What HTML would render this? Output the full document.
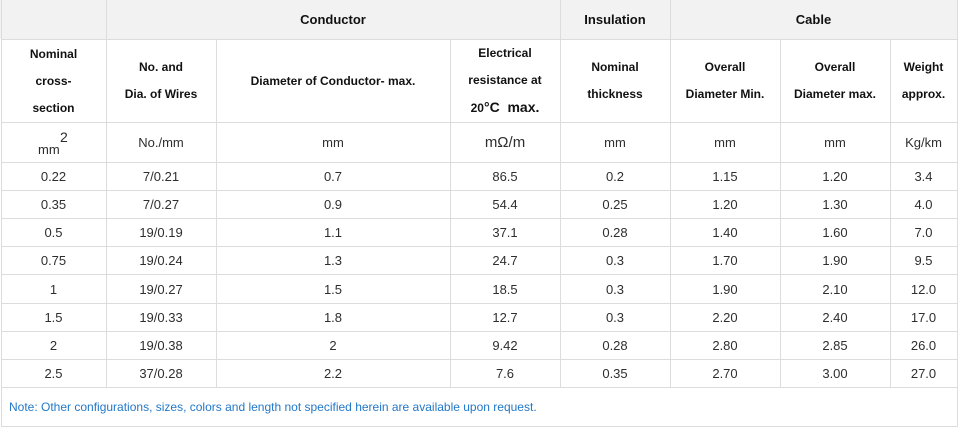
<!DOCTYPE html>
<html>
<head>
<meta charset="utf-8">
<style>
  html,body{margin:0;padding:0;background:#fff;}
  body{width:962px;height:431px;overflow:hidden;position:relative;font-family:"Liberation Sans",Arial,sans-serif;}
  .h{position:absolute;height:1px;background:#dcdcdc;}
  .v{position:absolute;width:1px;background:#dcdcdc;}
  .c{position:absolute;display:flex;align-items:center;justify-content:center;text-align:center;color:#2a2a2a;font-size:13px;white-space:nowrap;}
  .t{font-weight:bold;font-size:13px;color:#111;}
  .s{font-weight:bold;font-size:12px;color:#111;line-height:27px;}
  .d{color:#2e2e2e;}
</style>
</head>
<body>
<!-- header background -->
<div style="position:absolute;left:0;top:0;width:958px;height:39px;background:#f2f2f2;"></div>

<!-- horizontal lines -->
<div class="h" style="left:1px;top:39px;width:957px;"></div>
<div class="h" style="left:1px;top:122px;width:957px;"></div>
<div class="h" style="left:1px;top:162px;width:957px;"></div>
<div class="h" style="left:1px;top:190px;width:957px;"></div>
<div class="h" style="left:1px;top:218px;width:957px;"></div>
<div class="h" style="left:1px;top:246px;width:957px;"></div>
<div class="h" style="left:1px;top:274px;width:957px;"></div>
<div class="h" style="left:1px;top:303px;width:957px;"></div>
<div class="h" style="left:1px;top:331px;width:957px;"></div>
<div class="h" style="left:1px;top:359px;width:957px;"></div>
<div class="h" style="left:1px;top:387px;width:957px;"></div>
<div class="h" style="left:1px;top:426px;width:957px;"></div>

<!-- vertical lines -->
<div class="v" style="left:1px;top:0;height:427px;"></div>
<div class="v" style="left:957px;top:0;height:427px;"></div>
<div class="v" style="left:106px;top:0;height:387px;"></div>
<div class="v" style="left:216px;top:39px;height:348px;"></div>
<div class="v" style="left:450px;top:39px;height:348px;"></div>
<div class="v" style="left:560px;top:0;height:387px;"></div>
<div class="v" style="left:670px;top:0;height:387px;"></div>
<div class="v" style="left:780px;top:39px;height:348px;"></div>
<div class="v" style="left:890px;top:39px;height:348px;"></div>

<!-- header row 1 -->
<div class="c t" style="left:106px;top:0;width:454px;height:39px;">Conductor</div>
<div class="c t" style="left:560px;top:0;width:110px;height:39px;">Insulation</div>
<div class="c t" style="left:670px;top:0;width:287px;height:39px;">Cable</div>

<!-- header row 2 -->
<div class="c s" style="left:1px;top:40px;width:105px;height:82px;"><div>Nominal<br>cross-<br>section</div></div>
<div class="c s" style="left:106px;top:40px;width:110px;height:82px;"><div>No. and<br>Dia. of Wires</div></div>
<div class="c s" style="left:216px;top:40px;width:234px;height:82px;"><div>Diameter of Conductor- max.</div></div>
<div class="c s" style="left:450px;top:40px;width:110px;height:82px;"><div>Electrical<br>resistance at<br>20<span style="font-size:14px;">°C&nbsp;&nbsp;max.</span></div></div>
<div class="c s" style="left:560px;top:40px;width:110px;height:82px;"><div>Nominal<br>thickness</div></div>
<div class="c s" style="left:670px;top:40px;width:110px;height:82px;"><div>Overall<br>Diameter Min.</div></div>
<div class="c s" style="left:780px;top:40px;width:110px;height:82px;"><div>Overall<br>Diameter max.</div></div>
<div class="c s" style="left:890px;top:40px;width:67px;height:82px;"><div>Weight<br>approx.</div></div>

<!-- units row -->
<div style="position:absolute;left:38px;top:142px;font-size:13px;line-height:15px;color:#2a2a2a;">mm</div>
<div style="position:absolute;left:60px;top:129px;font-size:14px;line-height:16px;color:#2a2a2a;">2</div>
<div class="c d" style="left:106px;top:123px;width:110px;height:39px;">No./mm</div>
<div class="c d" style="left:216px;top:123px;width:234px;height:39px;">mm</div>
<div class="c d" style="left:450px;top:123px;width:110px;height:39px;font-size:15px;">mΩ/m</div>
<div class="c d" style="left:560px;top:123px;width:110px;height:39px;">mm</div>
<div class="c d" style="left:670px;top:123px;width:110px;height:39px;">mm</div>
<div class="c d" style="left:780px;top:123px;width:110px;height:39px;">mm</div>
<div class="c d" style="left:890px;top:123px;width:67px;height:39px;">Kg/km</div>

<!-- data rows -->
<!-- row 1 -->
<div class="c d" style="left:1px;top:163px;width:105px;height:27px;">0.22</div>
<div class="c d" style="left:106px;top:163px;width:110px;height:27px;">7/0.21</div>
<div class="c d" style="left:216px;top:163px;width:234px;height:27px;">0.7</div>
<div class="c d" style="left:450px;top:163px;width:110px;height:27px;">86.5</div>
<div class="c d" style="left:560px;top:163px;width:110px;height:27px;">0.2</div>
<div class="c d" style="left:670px;top:163px;width:110px;height:27px;">1.15</div>
<div class="c d" style="left:780px;top:163px;width:110px;height:27px;">1.20</div>
<div class="c d" style="left:890px;top:163px;width:67px;height:27px;">3.4</div>
<!-- row 2 -->
<div class="c d" style="left:1px;top:191px;width:105px;height:27px;">0.35</div>
<div class="c d" style="left:106px;top:191px;width:110px;height:27px;">7/0.27</div>
<div class="c d" style="left:216px;top:191px;width:234px;height:27px;">0.9</div>
<div class="c d" style="left:450px;top:191px;width:110px;height:27px;">54.4</div>
<div class="c d" style="left:560px;top:191px;width:110px;height:27px;">0.25</div>
<div class="c d" style="left:670px;top:191px;width:110px;height:27px;">1.20</div>
<div class="c d" style="left:780px;top:191px;width:110px;height:27px;">1.30</div>
<div class="c d" style="left:890px;top:191px;width:67px;height:27px;">4.0</div>
<!-- row 3 -->
<div class="c d" style="left:1px;top:219px;width:105px;height:27px;">0.5</div>
<div class="c d" style="left:106px;top:219px;width:110px;height:27px;">19/0.19</div>
<div class="c d" style="left:216px;top:219px;width:234px;height:27px;">1.1</div>
<div class="c d" style="left:450px;top:219px;width:110px;height:27px;">37.1</div>
<div class="c d" style="left:560px;top:219px;width:110px;height:27px;">0.28</div>
<div class="c d" style="left:670px;top:219px;width:110px;height:27px;">1.40</div>
<div class="c d" style="left:780px;top:219px;width:110px;height:27px;">1.60</div>
<div class="c d" style="left:890px;top:219px;width:67px;height:27px;">7.0</div>
<!-- row 4 -->
<div class="c d" style="left:1px;top:247px;width:105px;height:27px;">0.75</div>
<div class="c d" style="left:106px;top:247px;width:110px;height:27px;">19/0.24</div>
<div class="c d" style="left:216px;top:247px;width:234px;height:27px;">1.3</div>
<div class="c d" style="left:450px;top:247px;width:110px;height:27px;">24.7</div>
<div class="c d" style="left:560px;top:247px;width:110px;height:27px;">0.3</div>
<div class="c d" style="left:670px;top:247px;width:110px;height:27px;">1.70</div>
<div class="c d" style="left:780px;top:247px;width:110px;height:27px;">1.90</div>
<div class="c d" style="left:890px;top:247px;width:67px;height:27px;">9.5</div>
<!-- row 5 -->
<div class="c d" style="left:1px;top:275px;width:105px;height:28px;">1</div>
<div class="c d" style="left:106px;top:275px;width:110px;height:28px;">19/0.27</div>
<div class="c d" style="left:216px;top:275px;width:234px;height:28px;">1.5</div>
<div class="c d" style="left:450px;top:275px;width:110px;height:28px;">18.5</div>
<div class="c d" style="left:560px;top:275px;width:110px;height:28px;">0.3</div>
<div class="c d" style="left:670px;top:275px;width:110px;height:28px;">1.90</div>
<div class="c d" style="left:780px;top:275px;width:110px;height:28px;">2.10</div>
<div class="c d" style="left:890px;top:275px;width:67px;height:28px;">12.0</div>
<!-- row 6 -->
<div class="c d" style="left:1px;top:304px;width:105px;height:27px;">1.5</div>
<div class="c d" style="left:106px;top:304px;width:110px;height:27px;">19/0.33</div>
<div class="c d" style="left:216px;top:304px;width:234px;height:27px;">1.8</div>
<div class="c d" style="left:450px;top:304px;width:110px;height:27px;">12.7</div>
<div class="c d" style="left:560px;top:304px;width:110px;height:27px;">0.3</div>
<div class="c d" style="left:670px;top:304px;width:110px;height:27px;">2.20</div>
<div class="c d" style="left:780px;top:304px;width:110px;height:27px;">2.40</div>
<div class="c d" style="left:890px;top:304px;width:67px;height:27px;">17.0</div>
<!-- row 7 -->
<div class="c d" style="left:1px;top:332px;width:105px;height:27px;">2</div>
<div class="c d" style="left:106px;top:332px;width:110px;height:27px;">19/0.38</div>
<div class="c d" style="left:216px;top:332px;width:234px;height:27px;">2</div>
<div class="c d" style="left:450px;top:332px;width:110px;height:27px;">9.42</div>
<div class="c d" style="left:560px;top:332px;width:110px;height:27px;">0.28</div>
<div class="c d" style="left:670px;top:332px;width:110px;height:27px;">2.80</div>
<div class="c d" style="left:780px;top:332px;width:110px;height:27px;">2.85</div>
<div class="c d" style="left:890px;top:332px;width:67px;height:27px;">26.0</div>
<!-- row 8 -->
<div class="c d" style="left:1px;top:360px;width:105px;height:27px;">2.5</div>
<div class="c d" style="left:106px;top:360px;width:110px;height:27px;">37/0.28</div>
<div class="c d" style="left:216px;top:360px;width:234px;height:27px;">2.2</div>
<div class="c d" style="left:450px;top:360px;width:110px;height:27px;">7.6</div>
<div class="c d" style="left:560px;top:360px;width:110px;height:27px;">0.35</div>
<div class="c d" style="left:670px;top:360px;width:110px;height:27px;">2.70</div>
<div class="c d" style="left:780px;top:360px;width:110px;height:27px;">3.00</div>
<div class="c d" style="left:890px;top:360px;width:67px;height:27px;">27.0</div>

<!-- footer note -->
<div style="position:absolute;left:9px;top:388px;height:38px;display:flex;align-items:center;font-size:12px;color:#2378c8;white-space:nowrap;">Note: Other configurations, sizes, colors and length not specified herein are available upon request.</div>
</body>
</html>
